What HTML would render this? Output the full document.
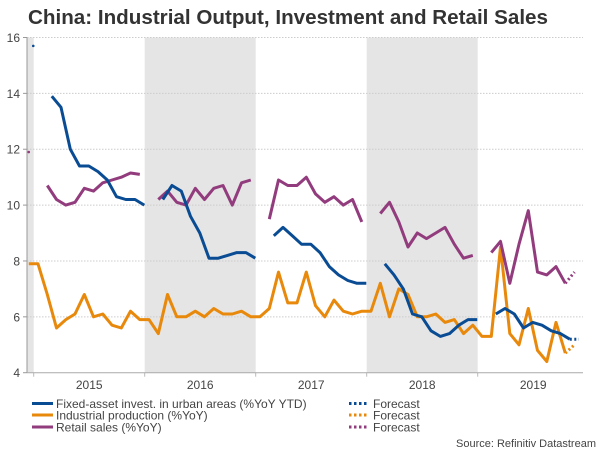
<!DOCTYPE html>
<html><head><meta charset="utf-8"><style>
html,body{margin:0;padding:0;background:#fff;}
svg{display:block;font-family:"Liberation Sans",Arial,sans-serif;}
</style></head><body>
<svg id="chart" width="600" height="450" viewBox="0 0 600 450" xmlns="http://www.w3.org/2000/svg">
<text x="28" y="24" font-size="20" font-weight="bold" fill="#333" textLength="520" lengthAdjust="spacingAndGlyphs">China: Industrial Output, Investment and Retail Sales</text>
<g id="bands"></g><g id="grid"></g><g id="axes"></g><g id="series"></g>
<g font-size="12" fill="#444">
<line x1="32" y1="403.5" x2="53" y2="403.5" stroke="#0a4c94" stroke-width="3"/>
<text x="56" y="408" fill="#444">Fixed-asset invest. in urban areas (%YoY YTD)</text>
<line x1="32" y1="415" x2="53" y2="415" stroke="#e8890c" stroke-width="3"/>
<text x="56" y="419.5" fill="#444">Industrial production (%YoY)</text>
<line x1="32" y1="427" x2="53" y2="427" stroke="#923c7e" stroke-width="3"/>
<text x="56" y="431.5" fill="#444">Retail sales (%YoY)</text>
<line x1="349" y1="403.5" x2="367" y2="403.5" stroke="#0a4c94" stroke-width="3" stroke-dasharray="2.5,2.5"/>
<text x="373" y="408" fill="#444">Forecast</text>
<line x1="349" y1="415" x2="367" y2="415" stroke="#e8890c" stroke-width="3" stroke-dasharray="2.5,2.5"/>
<text x="373" y="419.5" fill="#444">Forecast</text>
<line x1="349" y1="427" x2="367" y2="427" stroke="#923c7e" stroke-width="3" stroke-dasharray="2.5,2.5"/>
<text x="373" y="431.5" fill="#444">Forecast</text>
</g>
<text x="596" y="447" font-size="11" fill="#444" text-anchor="end">Source: Refinitiv Datastream</text>
</svg>
<script>
// Month index 0 = Jan 2015; -1 = Dec 2014. null = gap.
var years = ["2015","2016","2017","2018","2019"];
var yTicks = [4,6,8,10,12,14,16];
var ipValues = [7.9,7.9,6.8,5.6,5.9,6.1,6.8,6.0,6.1,5.7,5.6,6.2,5.9,
 5.9,5.4,6.8,6.0,6.0,6.2,6.0,6.3,6.1,6.1,6.2,6.0,
 6.0,6.3,7.6,6.5,6.5,7.6,6.4,6.0,6.6,6.2,6.1,6.2,
 6.2,7.2,6.0,7.0,6.8,6.0,6.0,6.1,5.8,5.9,5.4,5.7,
 5.3,5.3,8.5,5.4,5.0,6.3,4.8,4.4,5.8,4.7];
var ipForecast = [null,null,null,null,null,null,null,null,null,null,null,null,null,
 null,null,null,null,null,null,null,null,null,null,null,null,
 null,null,null,null,null,null,null,null,null,null,null,null,
 null,null,null,null,null,null,null,null,null,null,null,null,
 null,null,null,null,null,null,null,null,null,4.7,5.0];
var faiValues = [15.7,null,13.9,13.5,12.0,11.4,11.4,11.2,10.9,10.3,10.2,10.2,10.0,
 null,10.2,10.7,10.5,9.6,9.0,8.1,8.1,8.2,8.3,8.3,8.1,
 null,8.9,9.2,8.9,8.6,8.6,8.3,7.8,7.5,7.3,7.2,7.2,
 null,7.9,7.5,7.0,6.1,6.0,5.5,5.3,5.4,5.7,5.9,5.9,
 null,6.1,6.3,6.1,5.6,5.8,5.7,5.5,5.4,5.2];
var faiForecast = [null,null,null,null,null,null,null,null,null,null,null,null,null,
 null,null,null,null,null,null,null,null,null,null,null,null,
 null,null,null,null,null,null,null,null,null,null,null,null,
 null,null,null,null,null,null,null,null,null,null,null,null,
 null,null,null,null,null,null,null,null,null,5.2,5.2];
var retailValues = [11.9,null,10.7,10.2,10.0,10.1,10.6,10.5,10.8,10.9,11.0,11.15,11.1,
 null,10.2,10.5,10.1,10.0,10.6,10.2,10.6,10.7,10.0,10.8,10.9,
 null,9.5,10.9,10.7,10.7,11.0,10.4,10.1,10.3,10.0,10.2,9.4,
 null,9.7,10.1,9.4,8.5,9.0,8.8,9.0,9.2,8.6,8.1,8.2,
 null,8.3,8.7,7.2,8.6,9.8,7.6,7.5,7.8,7.2];
var retailForecast = [null,null,null,null,null,null,null,null,null,null,null,null,null,
 null,null,null,null,null,null,null,null,null,null,null,null,
 null,null,null,null,null,null,null,null,null,null,null,null,
 null,null,null,null,null,null,null,null,null,null,null,null,
 null,null,null,null,null,null,null,null,null,7.2,7.6];

var NS="http://www.w3.org/2000/svg";
var L=27,R=583,T=37.5,B=372.7,X0=33.7,YW=111;
function xm(i){return X0+4.3+(i-1)*(YW/12);} // array index i (0 = Dec 2014)
function yv(v){return B-(v-4)*(B-T)/12;}
function mk(t,a,p){var e=document.createElementNS(NS,t);for(var k in a)e.setAttribute(k,a[k]);p.appendChild(e);return e;}
var bands=document.getElementById('bands'),grid=document.getElementById('grid'),axes=document.getElementById('axes'),ser=document.getElementById('series');
var b0=mk('rect',{x:L,y:T,width:X0-L,height:B-T,fill:'#e5e5e5'},bands);


years.forEach(function(y,k){
  if(k%2==1){var r=mk('rect',{x:X0+k*YW,y:T,width:YW,height:B-T,fill:'#e5e5e5'},bands);
    
    }
  var t=mk('text',{x:X0+k*YW+YW/2,y:389,'font-size':12,fill:'#444','text-anchor':'middle'},axes);
  t.textContent=y;
  
  
  var tk=mk('line',{x1:X0+k*YW,x2:X0+k*YW,y1:B,y2:B+4,stroke:'#bbb'},axes);
  
  
});
yTicks.forEach(function(v){
  if(v>4){var g=mk('line',{x1:L,x2:R,y1:yv(v),y2:yv(v),stroke:'#ccc','stroke-dasharray':'1.5,1.5'},grid);
    
    }
  var t=mk('text',{x:20,y:yv(v)+4.5,'font-size':12,fill:'#444','text-anchor':'end'},axes);
  t.textContent=v;
  
  
  var tk=mk('line',{x1:L-4,x2:L,y1:yv(v),y2:yv(v),stroke:'#999'},axes);
  
  
});
var ya=mk('line',{x1:L,x2:L,y1:T,y2:B,stroke:'#999'},axes);


var xa=mk('line',{x1:L,x2:R,y1:B,y2:B,stroke:'#aaa'},axes);



function draw(arr,color,name,dash,off){
  var segs=[],cur=[];
  arr.forEach(function(v,i){if(v==null){if(cur.length)segs.push(cur);cur=[];}else cur.push([xm(i)+off,yv(v)]);});
  if(cur.length)segs.push(cur);
  segs.forEach(function(s){
    var el;
    if(s.length==1){el=mk('circle',{cx:s[0][0],cy:s[0][1],r:1.3,fill:color},ser);}
    else{var a={points:s.map(function(p){return p[0].toFixed(1)+','+p[1].toFixed(1);}).join(' '),fill:'none',stroke:color,'stroke-width':3,'stroke-linejoin':'round'};
      if(dash)a['stroke-dasharray']='2,2.5';
      el=mk('polyline',a,ser);}
    
    
  });
}
draw(ipValues,'#e8890c','industrial-production-line',false,0);
draw(ipForecast,'#e8890c','industrial-production-forecast',true,0);
draw(retailValues,'#923c7e','retail-sales-line',false,0);
draw(retailForecast,'#923c7e','retail-sales-forecast',true,0);
draw(faiValues,'#0a4c94','fixed-asset-investment-line',false,4.5);
draw(faiForecast,'#0a4c94','fixed-asset-investment-forecast',true,4.5);
</script>
</body></html>
